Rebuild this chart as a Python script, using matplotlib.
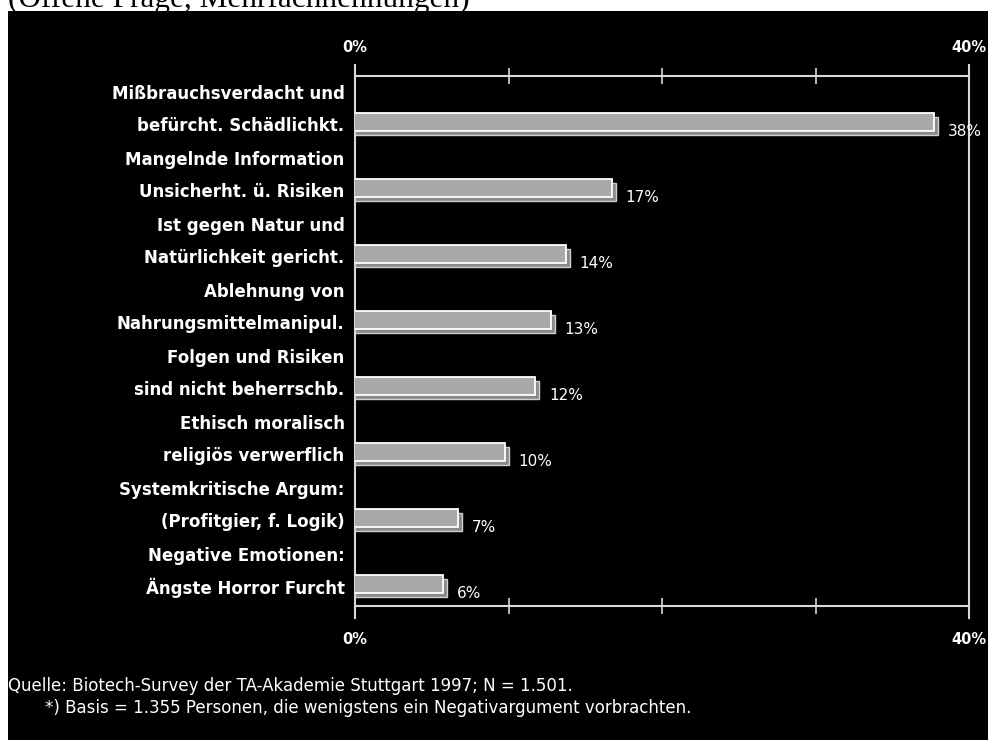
import numpy as np
import matplotlib.pyplot as plt
import matplotlib.transforms as mtransforms
from matplotlib.patches import Rectangle

# Gründe gegen Gentechnik in Lebensmitteln (Prozent)
zeile1 = ['Mißbrauchsverdacht und', 'Mangelnde Information', 'Ist gegen Natur und',
          'Ablehnung von', 'Folgen und Risiken', 'Ethisch moralisch',
          'Systemkritische Argum:', 'Negative Emotionen:']
zeile2 = ['befürcht. Schädlichkt.', 'Unsicherht. ü. Risiken', 'Natürlichkeit gericht.',
          'Nahrungsmittelmanipul.', 'sind nicht beherrschb.', 'religiös verwerflich',
          '(Profitgier, f. Logik)', 'Ängste Horror Furcht']
werte = [38, 17, 14, 13, 12, 10, 7, 6]

W, H = 988, 740
fig = plt.figure(figsize=(W / 100, H / 100), dpi=100, facecolor='white')

# schwarzer Hintergrund unter der (abgeschnittenen) Überschrift
fig.patches.append(Rectangle((8 / W, 0), 1, 1 - 11 / H, transform=fig.transFigure,
                             facecolor='black', edgecolor='none', zorder=-10))
fig.text(8 / W, 1 - 6.5 / H, '(Offene Frage, Mehrfachnennungen)', family='Liberation Serif',
         fontsize=22.5, color='black', ha='left', va='baseline')

x0, x1 = 355, 969
y_top, y_bot = 76, 606
ax = fig.add_axes([x0 / W, 1 - y_bot / H, (x1 - x0) / W, (y_bot - y_top) / H])
ax.set_facecolor('none')
ax.set_xlim(0, 40)
n = len(werte)
ax.set_ylim(n - 1 + 18 / 66, -50 / 66)

linie = '#d8d8d8'
for s in ['left', 'right']:
    ax.spines[s].set_visible(False)
for s in ['top', 'bottom']:
    ax.spines[s].set_color(linie)
    ax.spines[s].set_linewidth(1.5)
ax.set_xticks([10, 20, 30])
ax.set_yticks([])
ax.tick_params(axis='x', which='both', top=True, bottom=True, direction='inout',
               length=12, width=1.2, color=linie, labelbottom=False, labeltop=False)

# senkrechte Linien bei 0% und 40%, etwas über die Achsen hinaus
trans = mtransforms.blended_transform_factory(ax.transData, ax.transAxes)
h = y_bot - y_top
for xv in [0, 40]:
    ax.plot([xv, xv], [1 + 11 / h, -12 / h], color=linie, lw=1.5,
            transform=trans, clip_on=False)

# Achsenbeschriftung oben und unten
for yy in [1 + 28 / h, -34 / h]:
    ax.text(0, yy, '0%', transform=trans, ha='center', va='center', color='white',
            fontsize=10.5, fontweight='bold', clip_on=False)
    ax.text(40, yy, '40%', transform=trans, ha='center', va='center', color='white',
            fontsize=10.5, fontweight='bold', clip_on=False)

# Balken mit 3D-Schatten
versatz = mtransforms.offset_copy(ax.transData, fig=fig, x=-4, y=4, units='dots')
bh = 0.27
y = np.arange(n)
ax.barh(y, werte, height=bh, color='#8a8a8a', edgecolor='#d0d0d0', linewidth=1, zorder=2)
for yi, v in zip(y, werte):
    ax.add_patch(Rectangle((0, yi - bh / 2), v, bh, transform=versatz,
                           facecolor='#a9a9a9', edgecolor='white', linewidth=1.3, zorder=3))
    ax.annotate(f'{v}%', (v, yi), xytext=(7, -4), textcoords='offset points',
                color='white', fontsize=11, ha='left', va='center', annotation_clip=False)

# Kategorien zweizeilig links
for yi, a, b in zip(y, zeile1, zeile2):
    ax.annotate(a, (0, yi - 0.48), xytext=(-7.5, 0), textcoords='offset points',
                color='white', fontsize=12, fontweight='bold', ha='right', va='center',
                annotation_clip=False)
    ax.annotate(b, (0, yi), xytext=(-7.5, 0), textcoords='offset points',
                color='white', fontsize=12, fontweight='bold', ha='right', va='center',
                annotation_clip=False)

fig.text(8 / W, 1 - 686 / H, 'Quelle: Biotech-Survey der TA-Akademie Stuttgart 1997; N = 1.501.',
         color='white', fontsize=12, ha='left', va='center')
fig.text(45 / W, 1 - 708 / H,
         '*) Basis = 1.355 Personen, die wenigstens ein Negativargument vorbrachten.',
         color='white', fontsize=12, ha='left', va='center')

fig.savefig('out.png', dpi=100, facecolor='white')
